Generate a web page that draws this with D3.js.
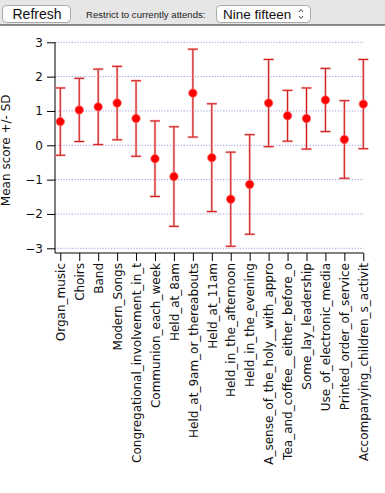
<!DOCTYPE html>
<html><head><meta charset="utf-8">
<script src="https://cdn.jsdelivr.net/npm/d3@7"></script>
<style>
html,body{margin:0;padding:0;background:#fff;}
svg{display:block;font-family:"DejaVu Sans",sans-serif;}
</style></head>
<body>
<svg id="c" width="385" height="493"></svg>
<script>
const categories = ["Organ_music","Choirs","Band","Modern_Songs","Congregational_involvement_in_t","Communion_each_week","Held_at_8am","Held_at_9am_or_thereabouts","Held_at_11am","Held_in_the_afternoon","Held_in_the_evening","A_sense_of_the_holy__with_appro","Tea_and_coffee__either_before_o","Some_lay_leadership","Use_of_electronic_media","Printed_order_of_service","Accompanying_children_s_activit"];
const means = [0.69,1.03,1.12,1.23,0.78,-0.39,-0.91,1.52,-0.36,-1.57,-1.14,1.23,0.86,0.78,1.32,0.17,1.20];
const sds   = [0.98,0.92,1.10,1.07,1.10,1.10,1.45,1.28,1.57,1.37,1.45,1.27,0.74,0.89,0.92,1.13,1.30];
const yTicks = [-3,-2,-1,0,1,2,3];

const svg = d3.select("#c");

// top control bar
const UI = "Liberation Sans, Arial, sans-serif";
svg.append("rect").attr("x",0).attr("y",0).attr("width",385).attr("height",25).attr("fill","#e6e6e6");
svg.append("line").attr("x1",0).attr("x2",385).attr("y1",25).attr("y2",25).attr("stroke","#222").attr("stroke-width",1.2);
svg.append("rect").attr("x",2.5).attr("y",5.5).attr("width",68).attr("height",17).attr("rx",4)
  .attr("fill","#fdfdfd").attr("stroke","#a8a8a8");
svg.append("text").attr("x",37).attr("y",19).attr("text-anchor","middle").attr("font-size",14).attr("font-family",UI).attr("fill","#111").text("Refresh");
svg.append("text").attr("x",86).attr("y",18).attr("font-size",9.6).attr("font-family",UI).attr("fill","#222").text("Restrict to currently attends:");
svg.append("rect").attr("x",216.5).attr("y",5.5).attr("width",94).attr("height",17).attr("rx",4)
  .attr("fill","#fdfdfd").attr("stroke","#a8a8a8");
svg.append("text").attr("x",223).attr("y",19).attr("font-size",13.5).attr("font-family",UI).attr("fill","#111").text("Nine fifteen");
svg.append("path").attr("d","M299,12 L301,9.5 L303,12 M299,16 L301,18.5 L303,16")
  .attr("fill","none").attr("stroke","#444").attr("stroke-width",1);

// chart
const x = d3.scalePoint().domain(categories).range([60.3, 363.3]);
const y = d3.scaleLinear().domain([-3,3]).range([248.3, 42.3]);
const left = 55, bottom = 253;

// gridlines
svg.append("g").selectAll("line").data(yTicks).join("line")
  .attr("x1",left).attr("x2",363.5).attr("y1",d=>y(d)).attr("y2",d=>y(d))
  .attr("stroke","#9c9cdc").attr("stroke-width",1).attr("stroke-dasharray","1.2,1.6");

// y axis
const ya = svg.append("g").attr("transform",`translate(${left},0)`)
  .call(d3.axisLeft(y).tickValues(yTicks).tickSize(8).tickPadding(4).tickFormat(d3.format("d")));
ya.select(".domain").remove();
ya.append("line").attr("x1",0).attr("x2",0).attr("y1",y(3)).attr("y2",bottom).attr("stroke","#000");
ya.selectAll(".tick text").attr("font-size",12).attr("fill","#111").attr("font-family","DejaVu Sans");
ya.selectAll(".tick line").attr("stroke","#000");

// x axis
const xa = svg.append("g").attr("transform",`translate(0,${bottom})`)
  .call(d3.axisBottom(x).tickSize(8).tickSizeOuter(0));
xa.select(".domain").remove();
xa.append("line").attr("x1",left).attr("x2",363.5).attr("y1",0).attr("y2",0).attr("stroke","#000");
xa.selectAll(".tick line").attr("stroke","#000");
xa.selectAll(".tick text")
  .attr("font-size",12).attr("fill","#111").attr("font-family","DejaVu Sans")
  .attr("transform","rotate(-90)").attr("text-anchor","end")
  .attr("x",-10).attr("y",0).attr("dy","0.35em");

// y title
svg.append("text").attr("transform",`translate(10,${y(0)+5}) rotate(-90)`)
  .attr("text-anchor","middle").attr("font-size",12).attr("fill","#111").text("Mean score +/- SD");

// error bars
const data = categories.map((c,i)=>({c, m:means[i], s:sds[i]}));
const g = svg.append("g");
const eb = g.selectAll("g").data(data).join("g");
[["#f6b4b4",2.4],["#cc1a1a",1]].forEach(([col,w])=>{
  eb.append("line").attr("x1",d=>x(d.c)).attr("x2",d=>x(d.c))
    .attr("y1",d=>y(d.m+d.s)).attr("y2",d=>y(d.m-d.s)).attr("stroke",col).attr("stroke-width",w);
  eb.append("line").attr("x1",d=>x(d.c)-5).attr("x2",d=>x(d.c)+5)
    .attr("y1",d=>y(d.m+d.s)).attr("y2",d=>y(d.m+d.s)).attr("stroke",col).attr("stroke-width",w);
  eb.append("line").attr("x1",d=>x(d.c)-5).attr("x2",d=>x(d.c)+5)
    .attr("y1",d=>y(d.m-d.s)).attr("y2",d=>y(d.m-d.s)).attr("stroke",col).attr("stroke-width",w);
});
eb.append("circle").attr("cx",d=>x(d.c)).attr("cy",d=>y(d.m)).attr("r",4.2)
  .attr("fill","#ff0000").attr("stroke","#ff6666").attr("stroke-width",0.8);
</script>
</body></html>
